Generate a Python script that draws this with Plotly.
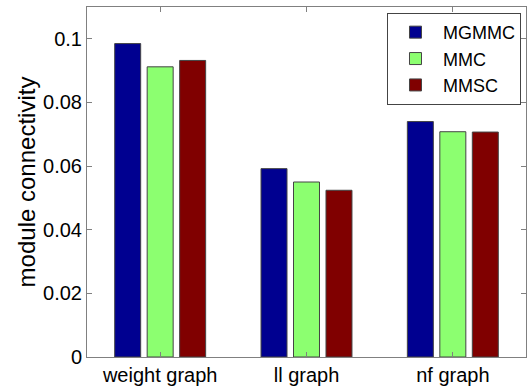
import plotly.graph_objects as go

categories = ["weight graph", "ll graph", "nf graph"]
mgmmc = [0.0985, 0.0592, 0.0740]
mmc = [0.0912, 0.0550, 0.0708]
mmsc = [0.0932, 0.0524, 0.0707]
series_names = ["MGMMC", "MMC", "MMSC"]
series_colors = ["#000090", "#8CFF70", "#800000"]
y_ticks = [0, 0.02, 0.04, 0.06, 0.08, 0.1]
y_tick_labels = ["0", "0.02", "0.04", "0.06", "0.08", "0.1"]

x_pos = [1, 2, 3]
fig = go.Figure()
for name, vals, col in zip(series_names, [mgmmc, mmc, mmsc], series_colors):
    fig.add_trace(go.Bar(
        x=x_pos, y=vals, name=name,
        marker=dict(color=col, line=dict(color="#444444", width=1)),
    ))

font = "Liberation Sans, Arial, sans-serif"
fig.update_layout(
    width=530, height=390,
    margin=dict(l=87, r=4, t=7, b=33, autoexpand=False),
    paper_bgcolor="white", plot_bgcolor="white",
    barmode="group", bargap=0.334, bargroupgap=0.2,
    font=dict(family=font, size=20, color="black"),
    showlegend=True,
    legend=dict(
        x=0.9886, y=0.983, xanchor="right", yanchor="top",
        bgcolor="white", bordercolor="#444444", borderwidth=1,
        font=dict(size=18), itemwidth=45, tracegroupgap=0,
        traceorder="normal",
    ),
    xaxis=dict(
        range=[0.5, 3.5], tickmode="array", tickvals=x_pos, ticktext=categories,
        showline=True, linecolor="#808080", linewidth=1, mirror="allticks",
        ticks="inside", ticklen=5, tickcolor="#808080", showgrid=False,
        zeroline=False, tickfont=dict(size=20), automargin=False,
    ),
    yaxis=dict(
        range=[0, 0.11], tickmode="array", tickvals=y_ticks, ticktext=y_tick_labels,
        showline=True, linecolor="#808080", linewidth=1, mirror="allticks",
        ticks="inside", ticklen=5, tickcolor="#808080", showgrid=False,
        zeroline=False, tickfont=dict(size=20), automargin=False,
        title=dict(text="module connectivity", font=dict(size=24), standoff=0),
    ),
)
fig.write_html("out.html", config={"displayModeBar": False},
               post_script="document.body.style.margin='0';document.body.style.overflow='hidden';")
